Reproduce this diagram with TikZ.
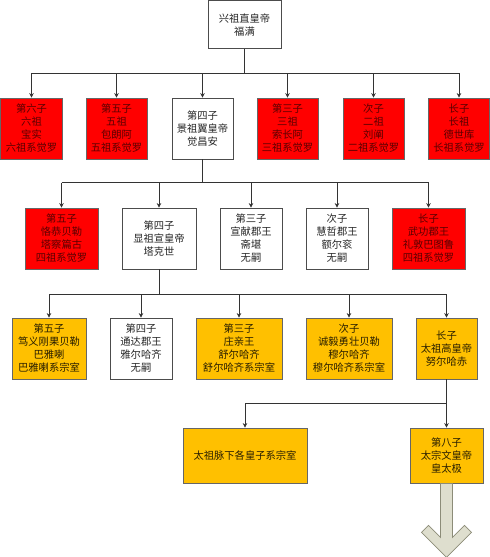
\documentclass[tikz,border=0pt]{standalone}
\usepackage{fontspec}
\newfontfamily\cjk{Noto Sans CJK SC}
\usetikzlibrary{arrows.meta}
\definecolor{boxred}{RGB}{255,0,0}
\definecolor{boxorange}{RGB}{255,192,0}
\definecolor{redtext}{RGB}{90,0,0}
\definecolor{orgtext}{RGB}{40,30,0}
\definecolor{bigarrowfill}{RGB}{222,222,206}
\definecolor{bigarrowline}{RGB}{140,140,120}
\tikzset{
  box/.style={draw=black!70, line width=0.8pt, rectangle, inner sep=0pt, align=center,
    minimum height=61pt, font=\cjk\fontsize{10.3}{13}\selectfont},
  whitebox/.style={box, fill=white, text=black!85},
  redbox/.style={box, fill=boxred, text=redtext, draw=black!60},
  orangebox/.style={box, fill=boxorange, text=orgtext, draw=black!60},
  link/.style={draw=black!80, line width=0.9pt},
  linkarrow/.style={link, -{Stealth[length=4.5pt,width=4.5pt]}},
}
\begin{document}
\begin{tikzpicture}[x=1pt,y=-1pt]
\useasboundingbox (0,0) rectangle (490,557);
% top
\node[whitebox, minimum width=73pt, minimum height=48pt] (top) at (244.5,24.8) {兴祖直皇帝\\福满};
% row 1
\node[redbox, minimum width=62pt] (r1a) at (31.5,128.5) {第六子\\六祖\\宝实\\六祖系觉罗};
\node[redbox, minimum width=61pt] (r1b) at (116.5,128.5) {第五子\\五祖\\包朗阿\\五祖系觉罗};
\node[whitebox, minimum width=61pt] (r1c) at (202.5,128.5) {第四子\\景祖翼皇帝\\觉昌安};
\node[redbox, minimum width=61pt] (r1d) at (287.5,128.5) {第三子\\三祖\\索长阿\\三祖系觉罗};
\node[redbox, minimum width=61pt] (r1e) at (373.5,128.5) {次子\\二祖\\刘阐\\二祖系觉罗};
\node[redbox, minimum width=61pt] (r1f) at (459,128.5) {长子\\长祖\\德世库\\长祖系觉罗};
% row 2
\node[redbox, minimum width=73pt] (r2a) at (61.5,238.5) {第五子\\恪恭贝勒\\塔察篇古\\四祖系觉罗};
\node[whitebox, minimum width=74pt] (r2b) at (159,238.5) {第四子\\显祖宣皇帝\\塔克世};
\node[whitebox, minimum width=62pt] (r2c) at (251,238.5) {第三子\\宣献郡王\\斋堪\\无嗣};
\node[whitebox, minimum width=62pt] (r2d) at (337,238.5) {次子\\慧哲郡王\\额尔衮\\无嗣};
\node[redbox, minimum width=73pt] (r2e) at (428.5,238.5) {长子\\武功郡王\\礼敦巴图鲁\\四祖系觉罗};
% row 3
\node[orangebox, minimum width=74pt] (r3a) at (49,348.5) {第五子\\笃义刚果贝勒\\巴雅喇\\巴雅喇系宗室};
\node[whitebox, minimum width=62pt] (r3b) at (141,348.5) {第四子\\通达郡王\\雅尔哈齐\\无嗣};
\node[orangebox, minimum width=86pt] (r3c) at (239,348.5) {第三子\\庄亲王\\舒尔哈齐\\舒尔哈齐系宗室};
\node[orangebox, minimum width=86pt] (r3d) at (349,348.5) {次子\\诚毅勇壮贝勒\\穆尔哈齐\\穆尔哈齐系宗室};
\node[orangebox, minimum width=61pt] (r3e) at (446.5,348.5) {长子\\太祖高皇帝\\努尔哈赤};
% row 4
\node[orangebox, minimum width=124pt, minimum height=55pt] (r4a) at (245,455.5) {太祖脉下各皇子系宗室};
\node[orangebox, minimum width=73pt, minimum height=55pt] (r4b) at (446.5,455.5) {第八子\\太宗文皇帝\\皇太极};
% bars
\coordinate (b1) at (0,73);
\coordinate (b2) at (0,182.5);
\coordinate (b3) at (0,294);
\coordinate (b4) at (0,403);
% level 1
\draw[link] (top.south) -- (top.south |- b1);
\draw[link] (r1a.north |- b1) -- (r1f.north |- b1);
\foreach \n in {r1a,r1b,r1c,r1d,r1e,r1f} \draw[linkarrow] (\n.north |- b1) -- (\n.north);
% level 2
\draw[link] (r1c.south) -- (r1c.south |- b2);
\draw[link] (r2a.north |- b2) -- (r2e.north |- b2);
\foreach \n in {r2a,r2b,r2c,r2d,r2e} \draw[linkarrow] (\n.north |- b2) -- (\n.north);
% level 3
\draw[link] (r2b.south) -- (r2b.south |- b3);
\draw[link] (r3a.north |- b3) -- (r3e.north |- b3);
\foreach \n in {r3a,r3b,r3c,r3d,r3e} \draw[linkarrow] (\n.north |- b3) -- (\n.north);
% level 4
\draw[link] (r3e.south) -- (r3e.south |- b4);
\draw[link] (r4a.north |- b4) -- (r4b.north |- b4);
\foreach \n in {r4a,r4b} \draw[linkarrow] (\n.north |- b4) -- (\n.north);
% big arrow
\draw[fill=bigarrowfill, draw=bigarrowline, line width=0.8pt]
  ([xshift=-6pt]r4b.south) -- ++(0,54) -- ++(-12,-12) -- ++(-7,7) -- ++(25,25)
  -- ++(25,-25) -- ++(-7,-7) -- ++(-12,12) -- ([xshift=6pt]r4b.south) -- cycle;
\end{tikzpicture}
\end{document}
